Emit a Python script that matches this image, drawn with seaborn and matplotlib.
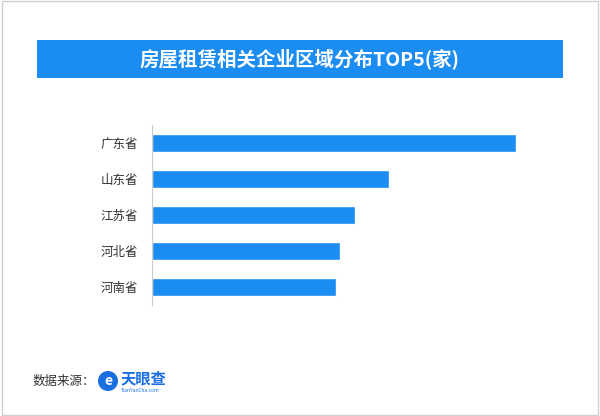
import matplotlib
matplotlib.use("Agg")
import matplotlib.pyplot as plt
import seaborn as sns
from matplotlib.patches import Rectangle, Ellipse

sns.set_style("white")
plt.rcParams['font.family'] = ['Noto Sans CJK SC', 'DejaVu Sans']

provinces = ["广东省", "山东省", "江苏省", "河北省", "河南省"]
counts = [364, 237, 203, 188, 184]
blue = "#1A8CF2"

fig = plt.figure(figsize=(6, 4.16), dpi=100)
fig.patches.append(Rectangle((0.003, 0.003), 0.994, 0.994, transform=fig.transFigure,
                             fill=False, edgecolor="#d0d0d0", linewidth=1))
fig.patches.append(Rectangle((37/600, 1-78/416), 526/600, 38/416, transform=fig.transFigure,
                             facecolor=blue, edgecolor="none"))
fig.text(0.5, 1-59/416, "房屋租赁相关企业区域分布TOP5(家)", color="white", fontsize=14,
         fontweight="bold", ha="center", va="center")

ax = fig.add_axes([152/600, 111/416, 400/600, 180/416])
sns.barplot(x=counts, y=provinces, orient="h", color=blue, width=0.5, saturation=1, ax=ax)
ax.set_xlim(0, 400)
ax.set_ylim(4.5, -0.5)
for s in ["top", "right", "bottom"]:
    ax.spines[s].set_visible(False)
ax.spines["left"].set_color("#cccccc")
ax.set_xticks([])
ax.tick_params(axis="y", length=0, labelsize=9, colors="#333333", pad=10)
ax.set_xlabel("")
ax.set_ylabel("")

fig.text(33/600, 1-381/416, "数据来源：", fontsize=9, color="#333333", va="center")
fig.patches.append(Ellipse((108/600, 1-381/416), 20/600, 20/416, transform=fig.transFigure,
                           facecolor="#1A6FE0", edgecolor="none"))
fig.text(108/600, 1-381/416, "e", fontsize=10, fontweight="bold", color="white",
         ha="center", va="center")
fig.text(121/600, 1-378/416, "天眼查", fontsize=11, fontweight="bold", color="#1A6FE0", va="center")
fig.text(121/600, 1-391/416, "TianYanCha.com", fontsize=3.5, color="#1A6FE0", va="center")

fig.savefig("out.png", dpi=100)
